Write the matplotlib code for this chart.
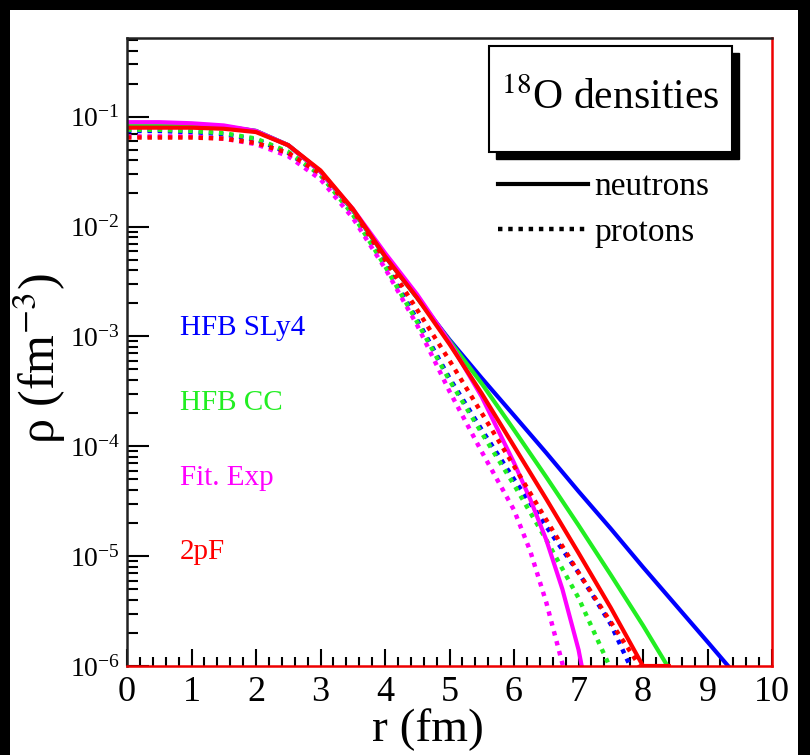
import matplotlib
matplotlib.use("Agg")

import matplotlib.pyplot as plt
from matplotlib.lines import Line2D
from matplotlib.patches import Rectangle
from matplotlib.ticker import MultipleLocator, LogLocator, NullFormatter

plt.rcParams['font.family'] = ['Liberation Serif', 'DejaVu Serif']
plt.rcParams['mathtext.fontset'] = 'stix'

# radius (fm) and density (fm^-3)
R_SLY4_N = [0, 0.5, 1, 1.5, 2, 2.5, 3, 3.5, 4, 4.5, 5, 5.5, 6, 6.5, 7, 7.5, 8, 8.5, 9, 9.32]
RHO_SLY4_N = [0.0851, 0.0851, 0.0851, 0.0813, 0.0741, 0.0550, 0.0316, 0.0141, 5.37e-3, 2.24e-3,
              9.33e-4, 4.17e-4, 1.91e-4, 8.71e-5, 3.89e-5, 1.78e-5, 7.94e-6, 3.63e-6, 1.66e-6, 1.0e-6]
R_SLY4_P = [0, 0.5, 1, 1.5, 2, 2.5, 3, 3.5, 4, 4.5, 5, 5.5, 6, 6.5, 7, 7.5, 7.8]
RHO_SLY4_P = [0.0741, 0.0741, 0.0724, 0.0692, 0.0617, 0.0468, 0.0295, 0.0132, 4.57e-3, 1.41e-3,
              4.17e-4, 1.41e-4, 5.01e-5, 1.86e-5, 7.08e-6, 2.40e-6, 1.0e-6]

R_CC_N = [0, 0.5, 1, 1.5, 2, 2.5, 3, 3.5, 4, 4.5, 5, 5.5, 6, 6.5, 7, 7.5, 8, 8.38]
RHO_CC_N = [0.0832, 0.0832, 0.0832, 0.0813, 0.0741, 0.0550, 0.0316, 0.0141, 5.37e-3, 2.24e-3,
            9.12e-4, 3.72e-4, 1.41e-4, 5.25e-5, 1.91e-5, 6.76e-6, 2.34e-6, 1.0e-6]
R_CC_P = [0, 0.5, 1, 1.5, 2, 2.5, 3, 3.5, 4, 4.5, 5, 5.5, 6, 6.5, 7, 7.48]
RHO_CC_P = [0.0759, 0.0759, 0.0741, 0.0708, 0.0631, 0.0479, 0.0295, 0.0129, 4.37e-3, 1.35e-3,
            3.98e-4, 1.32e-4, 4.47e-5, 1.41e-5, 4.17e-6, 1.0e-6]

R_FIT_N = [0, 0.5, 1, 1.5, 2, 2.5, 3, 3.5, 4, 4.5, 5, 5.5, 6, 6.25, 6.5, 6.75, 7, 7.05]
RHO_FIT_N = [0.0891, 0.0891, 0.0871, 0.0832, 0.0741, 0.0550, 0.0316, 0.0145, 5.75e-3, 2.40e-3,
             8.91e-4, 2.82e-4, 7.08e-5, 3.31e-5, 1.41e-5, 5.01e-6, 1.41e-6, 1.0e-6]
R_FIT_P = [0, 0.5, 1, 1.5, 2, 2.5, 3, 3.5, 4, 4.5, 5, 5.5, 6, 6.25, 6.5, 6.76]
RHO_FIT_P = [0.0661, 0.0661, 0.0661, 0.0631, 0.0562, 0.0437, 0.0269, 0.0120, 4.17e-3, 1.26e-3,
             3.16e-4, 8.91e-5, 2.63e-5, 1.12e-5, 3.80e-6, 1.0e-6]

R_2PF_N = [0, 0.5, 1, 1.5, 2, 2.5, 3, 3.5, 4, 4.5, 5, 5.5, 6, 6.5, 7, 7.5, 8, 8.4]
RHO_2PF_N = [0.0794, 0.0794, 0.0794, 0.0776, 0.0724, 0.0550, 0.0324, 0.0145, 5.37e-3, 2.24e-3,
             8.51e-4, 3.02e-4, 1.0e-4, 3.31e-5, 1.07e-5, 3.39e-6, 1.0e-6, 1.0e-6]
R_2PF_P = [0, 0.5, 1, 1.5, 2, 2.5, 3, 3.5, 4, 4.5, 5, 5.5, 6, 6.5, 7, 7.5, 7.95]
RHO_2PF_P = [0.0646, 0.0646, 0.0646, 0.0631, 0.0575, 0.0468, 0.0302, 0.0141, 5.01e-3, 1.74e-3,
             6.03e-4, 2.0e-4, 6.61e-5, 2.14e-5, 7.08e-6, 2.51e-6, 1.0e-6]

MODELS = ['HFB SLy4', 'HFB CC', 'Fit. Exp', '2pF']
COLORS = ['#0000ff', '#22ee22', '#ff00ff', '#ff0000']
NEUTRONS = [(R_SLY4_N, RHO_SLY4_N), (R_CC_N, RHO_CC_N), (R_FIT_N, RHO_FIT_N), (R_2PF_N, RHO_2PF_N)]
PROTONS = [(R_SLY4_P, RHO_SLY4_P), (R_CC_P, RHO_CC_P), (R_FIT_P, RHO_FIT_P), (R_2PF_P, RHO_2PF_P)]

DOTS = (0, (1, 1.3))

fig = plt.figure(figsize=(8.1, 7.55), dpi=100, facecolor='black')
# white page inside the black frame of the scan
page = fig.add_axes([10 / 810, 0, 788 / 810, 745 / 755], zorder=-10)
page.set_axis_off()
page.add_patch(Rectangle((0, 0), 1, 1, transform=page.transAxes, facecolor='white', edgecolor='none'))

ax = fig.add_axes([127 / 810, 89 / 755, 645 / 810, 628 / 755])

for (rn, dn), (rp, dp), col in zip(NEUTRONS, PROTONS, COLORS):
    ax.plot(rp, dp, color=col, lw=3.2, linestyle=DOTS)
    ax.plot(rn, dn, color=col, lw=3.0)

ax.set_yscale('log')
ax.set_xlim(0, 10)
ax.set_ylim(1e-6, 0.52)

ax.xaxis.set_major_locator(MultipleLocator(1))
ax.xaxis.set_minor_locator(MultipleLocator(0.2))
ax.yaxis.set_major_locator(LogLocator(base=10, numticks=10))
ax.yaxis.set_minor_locator(LogLocator(base=10, subs=range(2, 10), numticks=20))
ax.yaxis.set_minor_formatter(NullFormatter())

ax.tick_params(axis='x', which='major', direction='in', length=12, width=1.5, labelsize=26, pad=7)
ax.tick_params(axis='x', which='minor', direction='in', length=6.5, width=1.5)
ax.tick_params(axis='y', which='major', direction='in', length=16, width=1.5, labelsize=20, pad=5)
ax.tick_params(axis='y', which='minor', direction='in', length=8, width=1.5)

for side in ['top', 'left']:
    ax.spines[side].set_linewidth(1.8)
    ax.spines[side].set_color('#222222')
for side in ['bottom', 'right']:
    ax.spines[side].set_linewidth(1.8)
    ax.spines[side].set_color('#ee0000')

ax.set_xlabel('r (fm)', fontsize=34)
ax.xaxis.set_label_coords(0.467, -0.068)
ax.set_ylabel('ρ (fm$^{-3}$)', fontsize=36)
ax.yaxis.set_label_coords(-0.092, 0.49)

# title box with a drop shadow
ax.add_patch(Rectangle((0.572, 0.807), 0.377, 0.169, transform=ax.transAxes,
                       facecolor='black', edgecolor='black', zorder=5, clip_on=False))
ax.add_patch(Rectangle((0.561, 0.818), 0.377, 0.169, transform=ax.transAxes,
                       facecolor='white', edgecolor='black', lw=1.5, zorder=6, clip_on=False))
ax.text(0.749, 0.903, r'$^{18}$O densities', transform=ax.transAxes, fontsize=30,
        ha='center', va='center', zorder=7)

handles = [Line2D([], [], color='black', lw=3.0),
           Line2D([], [], color='black', lw=3.2, linestyle=DOTS)]
ax.legend(handles, ['neutrons', 'protons'], loc='upper left', bbox_to_anchor=(0.575, 0.787),
          frameon=False, fontsize=24, handlelength=2.7, handletextpad=0.2,
          labelspacing=0.45, borderpad=0, borderaxespad=0)

for i, (name, col) in enumerate(zip(MODELS, COLORS)):
    ax.text(0.082, 0.538 - i * 0.119, name, transform=ax.transAxes, color=col,
            fontsize=21, ha='left', va='center')

fig.savefig('out.png', dpi=100, facecolor=fig.get_facecolor())
